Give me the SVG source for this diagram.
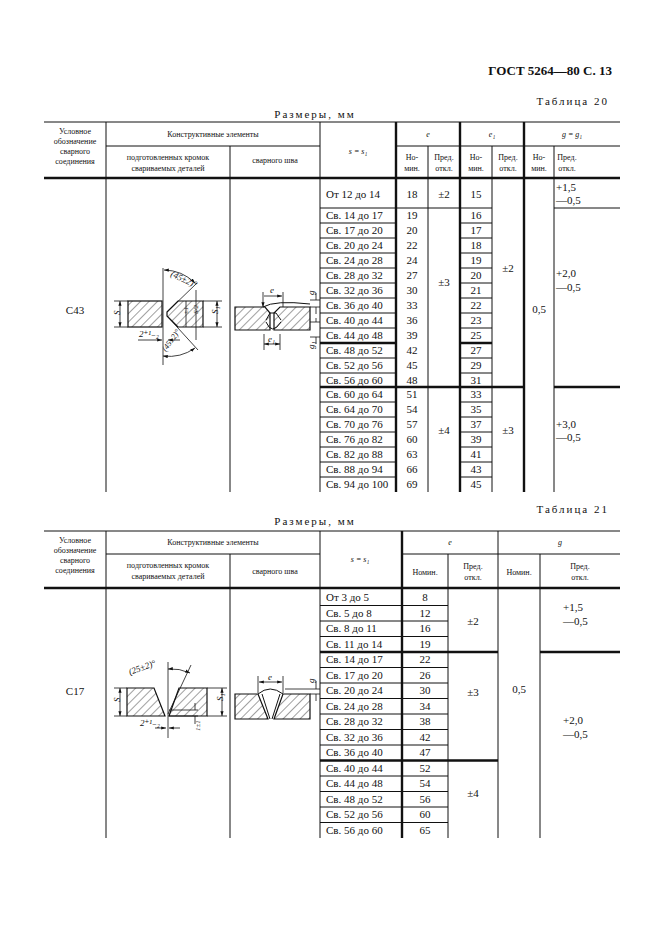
<svg xmlns="http://www.w3.org/2000/svg" width="661" height="936" viewBox="0 0 661 936">
<defs>
<style>
text{font-family:"Liberation Serif","DejaVu Serif",serif;fill:#111}
.h{font-size:8px;text-anchor:middle}
.d{font-size:11px}
.c{text-anchor:middle}
.l{stroke:#111;stroke-width:1;fill:none}
.t{stroke:#111;stroke-width:2.4;fill:none}
.p{stroke:#111;stroke-width:1.2;fill:url(#hatch)}
.dim{stroke:#111;stroke-width:0.8;fill:none}
</style>
<pattern id="hatch" patternUnits="userSpaceOnUse" width="6" height="6" patternTransform="rotate(45)"><line x1="0" y1="0" x2="0" y2="6" stroke="#111" stroke-width="0.8"/></pattern>
<marker id="a" markerWidth="6" markerHeight="6" refX="6" refY="3" orient="auto-start-reverse"><path d="M0,1 L6,3 L0,5 z" fill="#111"/></marker>
</defs>
<rect width="661" height="936" fill="#fff"/>
<text x="612" y="75" font-size="13" font-weight="bold" text-anchor="end">ГОСТ 5264—80 С. 13</text>
<text x="609" y="105" font-size="11" text-anchor="end" letter-spacing="2">Таблица 20</text>
<text x="315" y="118" font-size="11" text-anchor="middle" letter-spacing="2">Размеры, мм</text>

<g id="table20">
<g id="t20-lines">
<line class="l" x1="44" y1="122" x2="620" y2="122"/>
<line class="t" x1="44" y1="178" x2="620" y2="178"/>
<line class="l" x1="106" y1="146" x2="320" y2="146"/>
<line class="l" x1="396" y1="146" x2="620" y2="146"/>
<line class="l" x1="106" y1="122" x2="106" y2="492"/>
<line class="l" x1="230" y1="146" x2="230" y2="492"/>
<line class="l" x1="320" y1="122" x2="320" y2="492"/>
<line class="t" x1="396" y1="122" x2="396" y2="492"/>
<line class="l" x1="428" y1="146" x2="428" y2="492"/>
<line class="t" x1="460" y1="122" x2="460" y2="492"/>
<line class="l" x1="492" y1="146" x2="492" y2="492"/>
<line class="t" x1="524" y1="122" x2="524" y2="492"/>
<line class="l" x1="554" y1="146" x2="554" y2="492"/>
<line class="l" x1="320" y1="208" x2="460" y2="208"/>
<line class="l" x1="460" y1="208" x2="492" y2="208"/>
<line class="l" x1="554" y1="208" x2="620" y2="208"/>
<path class="l" d="M320 223H396M320 238H396M320 253H396M320 268H396M320 283H396M320 298H396M320 313H396M320 328H396M320 343H396M320 358H396M320 373H396M320 402H396M320 417H396M320 432H396M320 447H396M320 462H396M320 477H396"/>
<path class="l" d="M460 223H492M460 238H492M460 253H492M460 268H492M460 283H492M460 298H492M460 313H492M460 328H492M460 358H492M460 373H492M460 402H492M460 417H492M460 432H492M460 447H492M460 462H492M460 477H492"/>
<path class="t" d="M320 343H396M460 343H492M320 387H524M554 387H620"/>
</g>
<g id="t20-head">
<text class="h" x="75" y="134">Условное</text><text class="h" x="75" y="144">обозначение</text><text class="h" x="75" y="154">сварного</text><text class="h" x="75" y="164">соединения</text>
<text class="h" x="213" y="137">Конструктивные элементы</text>
<text class="h" x="168" y="160">подготовленных кромок</text><text class="h" x="168" y="171">свариваемых деталей</text>
<text class="h" x="275" y="163">сварного шва</text>
<text class="h" x="358" y="154" font-style="italic">s = s₁</text>
<text class="h" x="428" y="137" font-style="italic">e</text>
<text class="h" x="492" y="137" font-style="italic">e₁</text>
<text class="h" x="572" y="137" font-style="italic">g = g₁</text>
<text class="h" x="412" y="160">Но-</text><text class="h" x="412" y="171">мин.</text>
<text class="h" x="444" y="160">Пред.</text><text class="h" x="444" y="171">откл.</text>
<text class="h" x="476" y="160">Но-</text><text class="h" x="476" y="171">мин.</text>
<text class="h" x="508" y="160">Пред.</text><text class="h" x="508" y="171">откл.</text>
<text class="h" x="539" y="160">Но-</text><text class="h" x="539" y="171">мин.</text>
<text class="h" x="567" y="160">Пред.</text><text class="h" x="567" y="171">откл.</text>
</g>
<g id="t20-data" class="d">
<text class="d" x="75" y="314" text-anchor="middle">С43</text>
<text class="d" x="326" y="198">От 12 до 14</text>
<g class="d">
<text x="326" y="219">Св. 14 до 17</text><text x="326" y="234">Св. 17 до 20</text><text x="326" y="249">Св. 20 до 24</text><text x="326" y="264">Св. 24 до 28</text><text x="326" y="279">Св. 28 до 32</text><text x="326" y="294">Св. 32 до 36</text><text x="326" y="309">Св. 36 до 40</text><text x="326" y="324">Св. 40 до 44</text><text x="326" y="339">Св. 44 до 48</text><text x="326" y="354">Св. 48 до 52</text><text x="326" y="369">Св. 52 до 56</text><text x="326" y="384">Св. 56 до 60</text><text x="326" y="398">Св. 60 до 64</text><text x="326" y="413">Св. 64 до 70</text><text x="326" y="428">Св. 70 до 76</text><text x="326" y="443">Св. 76 до 82</text><text x="326" y="458">Св. 82 до 88</text><text x="326" y="473">Св. 88 до 94</text><text x="326" y="488">Св. 94 до 100</text>
</g>
<g class="d" text-anchor="middle">
<text x="412" y="198">18</text><text x="412" y="219">19</text><text x="412" y="234">20</text><text x="412" y="249">22</text><text x="412" y="264">24</text><text x="412" y="279">27</text><text x="412" y="294">30</text><text x="412" y="309">33</text><text x="412" y="324">36</text><text x="412" y="339">39</text><text x="412" y="354">42</text><text x="412" y="369">45</text><text x="412" y="384">48</text><text x="412" y="398">51</text><text x="412" y="413">54</text><text x="412" y="428">57</text><text x="412" y="443">60</text><text x="412" y="458">63</text><text x="412" y="473">66</text><text x="412" y="488">69</text>
<text x="444" y="198">±2</text><text x="444" y="286">±3</text><text x="444" y="434">±4</text>
<text x="476" y="198">15</text><text x="476" y="219">16</text><text x="476" y="234">17</text><text x="476" y="249">18</text><text x="476" y="264">19</text><text x="476" y="279">20</text><text x="476" y="294">21</text><text x="476" y="309">22</text><text x="476" y="324">23</text><text x="476" y="339">25</text><text x="476" y="354">27</text><text x="476" y="369">29</text><text x="476" y="384">31</text><text x="476" y="398">33</text><text x="476" y="413">35</text><text x="476" y="428">37</text><text x="476" y="443">39</text><text x="476" y="458">41</text><text x="476" y="473">43</text><text x="476" y="488">45</text>
<text x="508" y="272">±2</text><text x="508" y="434">±3</text>
<text x="539" y="313">0,5</text>
</g>
<text class="d" x="556" y="191">+1,5</text><text class="d" x="556" y="204">—0,5</text>
<text class="d" x="556" y="277">+2,0</text><text class="d" x="556" y="291">—0,5</text>
<text class="d" x="556" y="428">+3,0</text><text class="d" x="556" y="441">—0,5</text>
</g>
<g id="c43-prep">
<rect class="p" x="128" y="301" width="34" height="26"/>
<path class="p" d="M167 312L178 301H203V327H178L167 316Z"/>
<path class="dim" d="M163 268V365M167 312L197 283M167 316L198 350"/>
<line class="dim" x1="120" y1="301" x2="120" y2="327" marker-start="url(#a)" marker-end="url(#a)"/>
<path class="dim" d="M114 301H128M114 327H128"/>
<text x="117" y="318" font-size="9" font-style="italic" transform="rotate(-90 117 315)">S</text>
<line class="dim" x1="217" y1="301" x2="217" y2="327" marker-start="url(#a)" marker-end="url(#a)"/>
<path class="dim" d="M203 301H222M203 327H222"/>
<text x="214" y="318" font-size="9" font-style="italic" transform="rotate(-90 214 314)">S₁</text>
<path class="dim" d="M196 290V340M186 301V327"/>
<text x="186" y="316" font-size="7" font-style="italic" transform="rotate(-90 186 314)">±1</text>
<text x="196" y="316" font-size="7" font-style="italic" transform="rotate(-90 196 314)">S/2</text>
<path class="dim" d="M164 270A45 45 0 0 1 195 283" marker-start="url(#a)" marker-end="url(#a)"/>
<text x="170" y="276" font-size="9" font-style="italic" transform="rotate(25 170 276)">(45±2)°</text>
<path class="dim" d="M163 356A45 45 0 0 0 195 348" marker-start="url(#a)" marker-end="url(#a)"/>
<text x="166" y="352" font-size="8" font-style="italic" transform="rotate(-55 166 352)">(45±2)°</text>
<text x="139" y="337" font-size="9" font-style="italic">2⁺¹₋₂</text>
<line class="dim" x1="138" y1="340" x2="162" y2="340" marker-end="url(#a)"/>
<line class="dim" x1="180" y1="340" x2="168" y2="340" marker-end="url(#a)"/>
</g>
<g id="c43-weld">
<path class="p" d="M235 307H265L270 313V330H235Z"/>
<path class="p" d="M310 307H280L274 313V330H310Z"/>
<path class="l" d="M263 307Q275 300 310 304M266 320L270 313H276L281 320M266 322Q272 336 281 322"/>
<path class="dim" d="M263 307V292M283 307V292M264 296H282" marker-start="url(#a)" marker-end="url(#a)"/>
<text x="270" y="293" font-size="9" font-style="italic">e</text>
<path class="dim" d="M264 334V350M280 334V350"/>
<line class="dim" x1="264" y1="344" x2="280" y2="344" marker-start="url(#a)" marker-end="url(#a)"/>
<text x="268" y="342" font-size="9" font-style="italic">e₁</text>
<path class="dim" d="M310 300H320M310 307H320M310 322H320M310 337H320M316 293V300M316 307V314M316 318V322M316 337V344"/>
<text x="311" y="298" font-size="9" font-style="italic" transform="rotate(-90 311 295)">g</text>
<text x="311" y="352" font-size="9" font-style="italic" transform="rotate(-90 311 349)">g₁</text>
</g>
</g>

<text x="609" y="513" font-size="11" text-anchor="end" letter-spacing="2">Таблица 21</text>
<text x="315" y="525" font-size="11" text-anchor="middle" letter-spacing="2">Размеры, мм</text>
<g id="table21">
<g id="t21-lines">
<line class="l" x1="44" y1="531" x2="620" y2="531"/>
<line class="t" x1="44" y1="588" x2="620" y2="588"/>
<line class="l" x1="106" y1="554" x2="320" y2="554"/>
<line class="l" x1="402" y1="554" x2="620" y2="554"/>
<line class="l" x1="106" y1="531" x2="106" y2="838"/>
<line class="l" x1="230" y1="554" x2="230" y2="838"/>
<line class="l" x1="320" y1="531" x2="320" y2="838"/>
<line class="t" x1="402" y1="531" x2="402" y2="838"/>
<line class="l" x1="448" y1="554" x2="448" y2="838"/>
<line class="l" x1="498" y1="531" x2="498" y2="838"/>
<line class="l" x1="540" y1="554" x2="540" y2="838"/>
<path class="l" d="M320 605.5H448M320 621H448M320 636.5H448M320 667.5H448M320 683H448M320 698.5H448M320 714H448M320 729.5H448M320 745H448M320 776H448M320 791.5H448M320 807H448M320 822.5H448"/>
<path class="t" d="M320 652H498M320 760.5H498M540 652H620"/>
</g>
<g id="t21-head">
<text class="h" x="75" y="543">Условное</text><text class="h" x="75" y="553">обозначение</text><text class="h" x="75" y="563">сварного</text><text class="h" x="75" y="573">соединения</text>
<text class="h" x="213" y="545">Конструктивные элементы</text>
<text class="h" x="168" y="568">подготовленных кромок</text><text class="h" x="168" y="579">свариваемых деталей</text>
<text class="h" x="275" y="574">сварного шва</text>
<text class="h" x="360" y="562" font-style="italic">s = s₁</text>
<text class="h" x="450" y="545" font-style="italic">e</text>
<text class="h" x="560" y="545" font-style="italic">g</text>
<text class="h" x="425" y="575">Номин.</text>
<text class="h" x="473" y="569">Пред.</text><text class="h" x="473" y="580">откл.</text>
<text class="h" x="519" y="575">Номин.</text>
<text class="h" x="580" y="569">Пред.</text><text class="h" x="580" y="580">откл.</text>
</g>
<g id="t21-data">
<text class="d" x="75" y="695" text-anchor="middle">С17</text>
<g class="d">
<text x="326" y="601">От 3 до 5</text><text x="326" y="617">Св. 5 до 8</text><text x="326" y="632">Св. 8 до 11</text><text x="326" y="648">Св. 11 до 14</text><text x="326" y="663">Св. 14 до 17</text><text x="326" y="679">Св. 17 до 20</text><text x="326" y="694">Св. 20 до 24</text><text x="326" y="710">Св. 24 до 28</text><text x="326" y="725">Св. 28 до 32</text><text x="326" y="741">Св. 32 до 36</text><text x="326" y="756">Св. 36 до 40</text><text x="326" y="772">Св. 40 до 44</text><text x="326" y="787">Св. 44 до 48</text><text x="326" y="803">Св. 48 до 52</text><text x="326" y="818">Св. 52 до 56</text><text x="326" y="834">Св. 56 до 60</text>
</g>
<g class="d" text-anchor="middle">
<text x="425" y="601">8</text><text x="425" y="617">12</text><text x="425" y="632">16</text><text x="425" y="648">19</text><text x="425" y="663">22</text><text x="425" y="679">26</text><text x="425" y="694">30</text><text x="425" y="710">34</text><text x="425" y="725">38</text><text x="425" y="741">42</text><text x="425" y="756">47</text><text x="425" y="772">52</text><text x="425" y="787">54</text><text x="425" y="803">56</text><text x="425" y="818">60</text><text x="425" y="834">65</text>
<text x="473" y="625">±2</text><text x="473" y="696">±3</text><text x="473" y="797">±4</text>
<text x="519" y="693">0,5</text>
</g>
<text class="d" x="563" y="611">+1,5</text><text class="d" x="563" y="625">—0,5</text>
<text class="d" x="563" y="724">+2,0</text><text class="d" x="563" y="738">—0,5</text>
</g>
<g id="c17-prep">
<path class="p" d="M127 688H154L165 716H127Z"/>
<path class="p" d="M179 688H207V716H169Z"/>
<path class="dim" d="M168 662V738M168 714L191 665"/>
<path class="dim" d="M168 669A44 44 0 0 1 190 673" marker-start="url(#a)" marker-end="url(#a)"/>
<text x="130" y="675" font-size="9" font-style="italic" transform="rotate(-20 130 675)">(25±2)°</text>
<line class="dim" x1="120" y1="688" x2="120" y2="716" marker-start="url(#a)" marker-end="url(#a)"/>
<path class="dim" d="M114 688H127M114 716H127"/>
<text x="117" y="705" font-size="9" font-style="italic" transform="rotate(-90 117 702)">S</text>
<line class="dim" x1="222" y1="688" x2="222" y2="716" marker-start="url(#a)" marker-end="url(#a)"/>
<path class="dim" d="M207 688H227M207 716H227"/>
<text x="219" y="705" font-size="9" font-style="italic" transform="rotate(-90 219 701)">S₁</text>
<path class="dim" d="M169 710H198M169 716H198M195 703V710M195 716V724"/>
<text x="196" y="735" font-size="7" font-style="italic" transform="rotate(-90 196 731)">1±1</text>
<text x="140" y="726" font-size="9" font-style="italic">2⁺¹₋₂</text>
<line class="dim" x1="155" y1="728" x2="166" y2="728" marker-end="url(#a)"/>
<line class="dim" x1="180" y1="728" x2="169" y2="728" marker-end="url(#a)"/>
</g>
<g id="c17-weld">
<path class="p" d="M235 694H258L268 719H235Z"/>
<path class="p" d="M310 694H283L274 719H310Z"/>
<path class="l" d="M258 694Q270 684 283 694M262 694L270 719M280 694L272 719"/>
<path class="dim" d="M258 693V676M283 693V676"/>
<line class="dim" x1="259" y1="682" x2="282" y2="682" marker-start="url(#a)" marker-end="url(#a)"/>
<text x="268" y="680" font-size="9" font-style="italic">e</text>
<path class="dim" d="M285 689H320M310 694H320M316 681V689M316 694V701"/>
<text x="311" y="686" font-size="9" font-style="italic" transform="rotate(-90 311 683)">g</text>
</g>
</g>
</svg>
